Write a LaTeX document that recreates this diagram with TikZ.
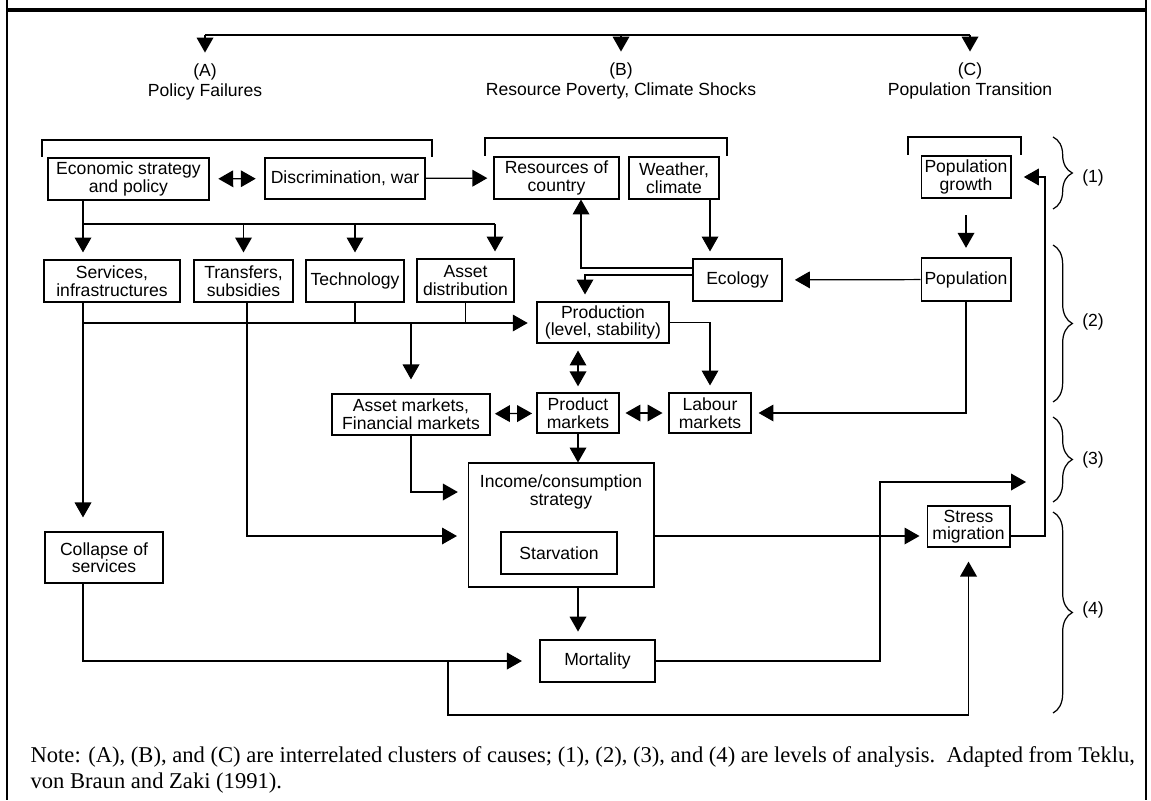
\documentclass[tikz,border=0pt]{standalone}
\usepackage{fontspec}
\setmainfont{Liberation Serif}
\setsansfont{Liberation Sans}
\usetikzlibrary{arrows.meta, decorations.pathreplacing}

\begin{document}
\begin{tikzpicture}[x=0.02cm, y=-0.02cm, line width=0.7pt,
  >={Triangle[length=8.5pt,width=9.5pt]}]
\tikzset{box/.style={draw, line width=0.6pt, inner sep=1pt, align=center,
  font=\sffamily\fontsize{10}{10}\selectfont}}
\tikzset{txt/.style={align=center, inner sep=0pt, font=\sffamily\fontsize{10}{11.5}\selectfont}}
\tikzset{arr/.style={->, shorten >=4pt}}
\tikzset{darr/.style={<->}}
\tikzset{level/.style={decorate, decoration={brace, amplitude=11pt}}}

\useasboundingbox (0,0) rectangle (1151,800);
% frame
\draw[line width=1.1pt] (7,0) -- (7,800);
\draw[line width=1.1pt] (1146,0) -- (1146,800);
\draw[line width=1.8pt] (7,10) -- (1146,10);

% clusters of causes
\node[txt] (hA) at (205,82) {(A)\\Policy Failures};
\node[txt] (hB) at (621,81) {(B)\\Resource Poverty, Climate Shocks};
\node[txt] (hC) at (970,81) {(C)\\Population Transition};
\coordinate (topA) at (205,35);
\coordinate (topB) at (621,35);
\coordinate (topC) at (970,35);
\draw (topA) -- (topC);
\foreach \c in {A,B,C}
  \draw[arr, shorten >=6pt] (top\c) -- (h\c.north);

% brackets
\draw (42,157) |- (432,140) -- (432,157);
\draw (485,156) |- (727,138) -- (727,156);
\draw (908,155) |- (1021,137) -- (1021,155);

% boxes
\node[box, minimum width=3.22cm, minimum height=0.84cm] (econ) at (128.5,179) {Economic strategy\\and policy};
\node[box, minimum width=3.2cm, minimum height=0.82cm] (discr) at (345,178.5) {Discrimination, war};
\node[box, minimum width=2.5cm, minimum height=0.84cm] (res) at (556.5,178) {Resources of\\country};
\node[box, minimum width=1.8cm, minimum height=0.84cm] (weather) at (674,178) {Weather,\\climate};
\node[box, minimum width=1.8cm, minimum height=0.84cm] (popg) at (966,177) {Population\\growth};
\node[box, minimum width=2.72cm, minimum height=0.84cm] (serv) at (112,281) {Services,\\infrastructures};
\node[box, minimum width=1.98cm, minimum height=0.84cm] (trans) at (243.5,281) {Transfers,\\subsidies};
\node[box, minimum width=1.96cm, minimum height=0.84cm] (tech) at (355,281) {Technology};
\node[box, minimum width=1.94cm, minimum height=0.86cm] (assetd) at (465.5,280.5) {Asset\\distribution};
\node[box, minimum width=1.78cm, minimum height=0.84cm] (eco) at (737.5,280) {Ecology};
\node[box, minimum width=1.8cm, minimum height=0.86cm] (pop) at (966,279.5) {Population};
\node[box, minimum width=2.64cm, minimum height=0.82cm] (prod) at (603,322.5) {Production\\(level, stability)};
\node[box, minimum width=3.16cm, minimum height=0.82cm] (assetm) at (411,414.5) {Asset markets,\\Financial markets};
\node[box, minimum width=1.64cm, minimum height=0.8cm] (prodm) at (578,413) {Product\\markets};
\node[box, minimum width=1.64cm, minimum height=0.8cm] (lab) at (710,413) {Labour\\markets};
\node[box, minimum width=3.72cm, minimum height=2.48cm] (inc) at (561,525) {};
\node[box, draw=none] (inclabel) at (561,492) {Income/consumption\\strategy};
\node[box, minimum width=2.32cm, minimum height=0.84cm] (starv) at (559,553) {Starvation};
\node[box, minimum width=2.36cm, minimum height=1.02cm] (collapse) at (104,557.5) {Collapse of\\services};
\node[box, minimum width=2.3cm, minimum height=0.84cm] (mort) at (597.5,661) {Mortality};
\node[box, minimum width=1.66cm, minimum height=0.82cm] (stress) at (968.5,526.5) {Stress\\migration};

% bend points
\coordinate (busA) at (83,224);
\coordinate (busB) at (495,224);
\coordinate (busC) at (83,323);
\coordinate (ecoR) at (581,268);
\coordinate (ecoP) at (585,275);
\coordinate (wx) at (710,0);
\coordinate (tr) at (247,536);
\coordinate (loop) at (448,715);
\coordinate (mx) at (880,482);
\coordinate (lvl3) at (1026,482);
\coordinate (sx) at (1045,535);

% connectors
\draw[darr, shorten <=5pt, shorten >=5pt] (econ) -- (discr);
\draw[arr, shorten >=3.5pt] (discr) -- (res);
\draw[arr] (weather.south -| wx) -- (eco.north -| wx);
\draw[arr, shorten >=0pt] (eco.west |- ecoR) -- (ecoR) -- (ecoR |- res.south);
\draw[arr] (eco.west |- ecoP) -- (ecoP) -- (ecoP |- prod.north);
\draw[arr, shorten <=9.5pt, shorten >=5.5pt] (popg.south) -- (pop.north);
\draw[arr, shorten >=7pt] (pop) -- (eco);
\draw[arr] (pop.south) |- (lab.east);
\draw (econ.south -| busA) -- (busA) -- (busB);
\draw[arr] (busA) -- (busA |- serv.north);
\draw[arr] (busA -| trans.north) -- (trans.north);
\draw[arr] (busA -| tech.north) -- (tech.north);
\draw[arr] (busB) -- (busB |- assetd.north);
\draw[arr, shorten >=5pt] (busC) -- (busC -| prod.west);
\draw[arr, shorten >=8pt] (serv.south -| busC) -- (busC |- collapse.north);
\draw (tech.south) -- (tech.south |- busC);
\draw (assetd.south) -- (assetd.south |- busC);
\draw[arr, shorten >=8pt] (busC -| assetm.north) -- (assetm.north);
\draw[arr, shorten >=6pt] (trans.south -| tr) -- (tr) -- (tr -| inc.west);
\draw[arr] (prod.east) -| (lab.north);
\draw[darr, shorten <=4pt, shorten >=3.5pt] (prodm.north |- prod.south) -- (prodm.north);
\draw[darr, shorten <=2.5pt, shorten >=2.5pt] (assetm) -- (prodm);
\draw[darr, shorten <=3.4pt, shorten >=3.4pt] (prodm) -- (lab);
\draw[arr, shorten >=0pt] (prodm.south) -- (prodm.south |- inc.north);
\draw[arr, shorten >=5.5pt] (assetm.south) |- (inc.west |- inclabel);
\draw[arr, shorten >=4.5pt] (inc.south -| prodm) -- (mort.north -| prodm);
\draw[arr, shorten >=10pt] (collapse.south -| busC) |- (mort.west);
\draw[arr, shorten >=8pt] (loop |- mort.west) -- (loop) -| (stress.south);
\draw[arr, shorten >=0pt] (mort.east) -| (mx) -- (lvl3);
\draw[arr] (inc.east |- tr) -- (stress.west |- tr);
\draw[arr, shorten >=7pt] (stress.east |- tr) -| (sx |- popg.east) -- (popg.east);

% levels of analysis
\draw[level] (1053,137) -- (1053,209);
\draw[level] (1053,245) -- (1053,402);
\draw[level] (1053,417) -- (1053,502);
\draw[level] (1053,512) -- (1053,713);
\node[txt] (l1) at (1093,178) {(1)};
\node[txt] (l2) at (1093,322) {(2)};
\node[txt] (l3) at (1093,460) {(3)};
\node[txt] (l4) at (1093,610) {(4)};

% note
\node[anchor=west, align=left, inner sep=0pt, font=\fontsize{12.85}{14.8}\selectfont] (note) at (30,770)
  {Note: (A), (B), and (C) are interrelated clusters of causes; (1), (2), (3), and (4) are levels of analysis.\ \ Adapted from Teklu,\\
   von Braun and Zaki (1991).};
\end{tikzpicture}
\end{document}
